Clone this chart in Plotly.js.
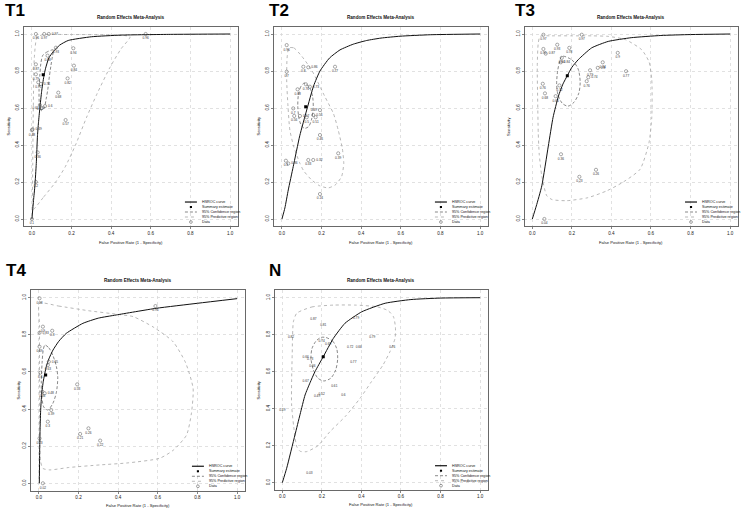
<!DOCTYPE html>
<html><head><meta charset="utf-8">
<script src="https://cdn.plot.ly/plotly-3.0.1.min.js"></script>
<style>html,body{margin:0;padding:0;background:#fff}#chart{width:744px;height:513px}</style>
</head><body><div id="chart"></div>
<script>
// ---------- shared ----------
const panelNames = ['T1','T2','T3','T4','N'];
const subTitle = 'Random Effects Meta-Analysis';
const xTitle = 'False Positive Rate (1 - Specificity)';
const yTitle = 'Sensitivity';
const tickVals = [0, 0.2, 0.4, 0.6, 0.8, 1.0];
const tickText = ['0.0','0.2','0.4','0.6','0.8','1.0'];
const legendLabels = ['HSROC curve','Summary estimate','95% Confidence region','95% Predictive region','Data'];

// ---------- T1 ----------
const t1_fpr = [0.02,0.062,0.085,0.574,0.121,0.209,0.212,0.18,0.133,0.17,0.079,0.02,0.02,0.032,0.045,0.04,0.066,0.05,0.0,0.003,0.029,0.02,0.0];
const t1_sens = [1.0,1.0,1.0,1.0,0.926,0.923,0.829,0.76,0.683,0.535,0.883,0.836,0.782,0.739,0.73,0.616,0.61,0.6,0.48,0.485,0.36,0.2,0.0];
const t1_lab = ['0.96','0.97','0.97','0.96','0.93','0.94','0.84','0.82','0.68','0.57','0.88','0.87','0.79','0.75','0.74','0.62','0.6','0.61','0.48','0.49','0.36','0.2','0.1'];
const t1_sum = [0.057, 0.78];
const t1_curve_x = [0,0.008,0.015,0.022,0.028,0.033,0.04,0.049,0.06,0.069,0.085,0.108,0.14,0.183,0.3,0.45,0.7,1.0];
const t1_curve_y = [0,0.1,0.18,0.3,0.45,0.52,0.6,0.69,0.77,0.815,0.87,0.905,0.94,0.965,0.985,0.994,0.998,1.0];
const t1_conf_x = [0.108,0.08,0.055,0.045,0.04,0.036,0.038,0.049,0.062,0.072,0.08,0.088,0.096,0.103,0.108];
const t1_conf_y = [0.914,0.905,0.885,0.84,0.778,0.7,0.62,0.585,0.6,0.65,0.7,0.77,0.83,0.877,0.914];
const t1_pred_x = [0.005,0.06,0.12,0.167,0.22,0.276,0.33,0.394,0.45,0.495,0.4,0.2,0.05,0.025,0.012,0.007,0.004,0.003,0.005];
const t1_pred_y = [0.05,0.12,0.2,0.28,0.4,0.55,0.68,0.82,0.92,0.985,0.995,0.997,0.995,0.98,0.87,0.6,0.3,0.1,0.05];

// ---------- T2 ----------
const t2_fpr = [0.024,0.024,0.108,0.133,0.268,0.079,0.121,0.141,0.057,0.062,0.091,0.125,0.158,0.17,0.192,0.192,0.284,0.02,0.032,0.133,0.158,0.192];
const t2_sens = [0.94,0.796,0.823,0.82,0.823,0.701,0.728,0.715,0.598,0.557,0.557,0.55,0.562,0.55,0.589,0.454,0.355,0.315,0.3,0.319,0.319,0.135];
const t2_lab = ['0.96','0.7','0.8','0.86','0.77','0.68','0.76','0.73','0.7','0.56','0.57','0.5','0.56','0.51','0.49','0.46','0.39','0.3','0.36','0.33','0.32','0.14'];
const t2_sum = [0.12, 0.607];
const t2_curve_x = [0,0.015,0.032,0.057,0.09,0.125,0.16,0.192,0.24,0.293,0.36,0.428,0.5,0.596,0.75,1.0];
const t2_curve_y = [0,0.06,0.157,0.283,0.45,0.589,0.72,0.8,0.87,0.914,0.945,0.965,0.978,0.988,0.996,1.0];
const t2_conf_x = [0.113,0.095,0.083,0.08,0.085,0.098,0.115,0.135,0.15,0.158,0.155,0.14,0.113];
const t2_conf_y = [0.735,0.715,0.67,0.61,0.55,0.505,0.49,0.5,0.54,0.6,0.66,0.71,0.735];
const t2_pred_x = [0.035,0.06,0.1,0.15,0.217,0.26,0.284,0.305,0.312,0.301,0.27,0.234,0.19,0.15,0.11,0.091,0.06,0.04,0.03,0.024,0.026,0.035];
const t2_pred_y = [0.925,0.925,0.88,0.805,0.661,0.57,0.481,0.38,0.3,0.229,0.185,0.168,0.18,0.211,0.26,0.3,0.39,0.481,0.62,0.751,0.87,0.925];

// ---------- T3 ----------
const t3_fpr = [0.056,0.25,0.056,0.068,0.126,0.187,0.149,0.144,0.053,0.064,0.137,0.118,0.292,0.283,0.275,0.331,0.356,0.432,0.474,0.145,0.322,0.238,0.061];
const t3_sens = [0.996,0.996,0.919,0.894,0.942,0.925,0.871,0.847,0.731,0.679,0.722,0.664,0.804,0.766,0.745,0.817,0.847,0.898,0.799,0.35,0.266,0.228,0.0];
const t3_lab = ['0.97','0.97','0.95','0.87','0.93','0.78','0.84','0.84','0.76','0.68','0.72','0.66','0.79','0.74','0.76','0.8','0.84','0.9','0.77','0.36','0.26','0.23','0.04'];
const t3_sum = [0.177, 0.775];
const t3_curve_x = [0,0.02,0.048,0.081,0.105,0.132,0.155,0.177,0.2,0.233,0.3,0.384,0.5,0.65,0.8,1.0];
const t3_curve_y = [0,0.07,0.179,0.395,0.55,0.664,0.73,0.775,0.82,0.862,0.925,0.96,0.98,0.992,0.997,1.0];
const t3_conf_x = [0.15,0.2,0.232,0.242,0.235,0.21,0.18,0.152,0.13,0.123,0.128,0.138,0.15];
const t3_conf_y = [0.88,0.86,0.81,0.74,0.68,0.63,0.61,0.625,0.67,0.73,0.8,0.85,0.88];
const t3_pred_x = [0.039,0.1,0.2,0.3,0.385,0.47,0.553,0.59,0.604,0.604,0.59,0.545,0.46,0.376,0.28,0.174,0.1,0.073,0.048,0.035,0.03,0.027,0.025,0.03,0.039];
const t3_pred_y = [0.987,0.99,0.99,0.99,0.987,0.97,0.915,0.85,0.754,0.55,0.413,0.269,0.2,0.152,0.115,0.099,0.105,0.126,0.233,0.35,0.467,0.65,0.826,0.95,0.987];

// ---------- T4 ----------
const t4_fpr = [0.003,0.02,0.003,0.067,0.003,0.045,0.05,0.007,0.017,0.029,0.062,0.045,0.193,0.25,0.208,0.309,0.003,0.588,0.02];
const t4_sens = [0.997,0.844,0.811,0.822,0.736,0.637,0.655,0.596,0.494,0.485,0.395,0.332,0.533,0.296,0.266,0.23,0.242,0.955,0.0];
const t4_lab = ['0.98','0.9','0.83','0.8','0.69','0.63','0.65','0.6','0.46','0.48','0.39','0.3','0.53','0.26','0.21','0.22','0.23','0.95','0.02'];
const t4_sum = [0.034, 0.584];
const t4_curve_x = [0.002,0.003,0.004,0.006,0.009,0.014,0.022,0.037,0.05,0.071,0.1,0.138,0.222,0.3,0.39,0.592,0.8,1.0];
const t4_curve_y = [0,0.1,0.2,0.3,0.4,0.48,0.55,0.628,0.67,0.718,0.765,0.808,0.862,0.89,0.907,0.943,0.97,0.995];
const t4_conf_x = [0.03,0.05,0.07,0.088,0.095,0.088,0.07,0.045,0.025,0.014,0.012,0.016,0.022,0.03];
const t4_conf_y = [0.745,0.73,0.69,0.63,0.57,0.49,0.43,0.395,0.41,0.47,0.55,0.65,0.72,0.745];
const t4_pred_x = [0.003,0.1,0.25,0.4,0.476,0.58,0.677,0.74,0.778,0.77,0.745,0.68,0.61,0.45,0.308,0.15,0.055,0.02,0.008,0.004,0.003,0.003,0.003];
const t4_pred_y = [0.97,0.955,0.93,0.91,0.898,0.84,0.763,0.65,0.512,0.38,0.26,0.18,0.135,0.11,0.099,0.085,0.072,0.08,0.12,0.3,0.6,0.85,0.97];

// ---------- N ----------
const n_fpr = [0.157,0.207,0.373,0.044,0.455,0.556,0.343,0.371,0.359,0.199,0.216,0.118,0.125,0.152,0.118,0.263,0.199,0.16,0.309,0.0,0.137];
const n_sens = [0.885,0.849,0.889,0.784,0.789,0.73,0.732,0.735,0.654,0.766,0.748,0.678,0.665,0.632,0.546,0.519,0.478,0.469,0.474,0.393,0.051];
const n_lab = ['0.87','0.81','0.79','0.82','0.79','0.76','0.72','0.66','0.77','0.74','0.69','0.66','0.73','0.66','0.67','0.61','0.52','0.49','0.6','0.49','0.03'];
const n_sum = [0.207, 0.681];
const n_curve_x = [0,0.022,0.064,0.09,0.115,0.14,0.165,0.207,0.258,0.317,0.402,0.52,0.65,0.8,1.0];
const n_curve_y = [0,0.078,0.258,0.37,0.474,0.54,0.6,0.681,0.78,0.862,0.924,0.97,0.99,0.998,1.0];
const n_conf_x = [0.22,0.255,0.275,0.28,0.27,0.245,0.21,0.18,0.157,0.145,0.15,0.17,0.195,0.22];
const n_conf_y = [0.785,0.765,0.725,0.67,0.61,0.565,0.55,0.565,0.61,0.67,0.725,0.765,0.785,0.785];
const n_pred_x = [0.073,0.15,0.258,0.37,0.478,0.535,0.562,0.572,0.57,0.545,0.509,0.45,0.393,0.32,0.241,0.18,0.123,0.09,0.073,0.058,0.047,0.047,0.05,0.056,0.073];
const n_pred_y = [0.916,0.95,0.96,0.96,0.951,0.93,0.897,0.84,0.78,0.71,0.636,0.545,0.456,0.36,0.276,0.2,0.168,0.17,0.195,0.3,0.42,0.55,0.69,0.87,0.916];

// ---------- build ----------
const W = 744, H = 513;
const FONT = 'Arial, "Liberation Sans", sans-serif';
const panels = [
  {fpr:t1_fpr, sens:t1_sens, lab:t1_lab, sum:t1_sum, cx:t1_curve_x, cy:t1_curve_y, kx:t1_conf_x, ky:t1_conf_y, px:t1_pred_x, py:t1_pred_y,
   box:[24,238,26.6,226.4], label:[3,10], xtOff:16.5, ytOff:16, circles:true},
  {fpr:t2_fpr, sens:t2_sens, lab:t2_lab, sum:t2_sum, cx:t2_curve_x, cy:t2_curve_y, kx:t2_conf_x, ky:t2_conf_y, px:t2_pred_x, py:t2_pred_y,
   box:[274,488,26.6,226.4], label:[267,10], xtOff:16.5, ytOff:16, circles:true},
  {fpr:t3_fpr, sens:t3_sens, lab:t3_lab, sum:t3_sum, cx:t3_curve_x, cy:t3_curve_y, kx:t3_conf_x, ky:t3_conf_y, px:t3_pred_x, py:t3_pred_y,
   box:[524.4,738,26.6,226.4], label:[513,10], xtOff:16.5, ytOff:16, circles:true},
  {fpr:t4_fpr, sens:t4_sens, lab:t4_lab, sum:t4_sum, cx:t4_curve_x, cy:t4_curve_y, kx:t4_conf_x, ky:t4_conf_y, px:t4_pred_x, py:t4_pred_y,
   box:[31,245,290.3,490.7], label:[4,270], xtOff:14.5, ytOff:13, circles:true},
  {fpr:n_fpr, sens:n_sens, lab:n_lab, sum:n_sum, cx:n_curve_x, cy:n_curve_y, kx:n_conf_x, ky:n_conf_y, px:n_pred_x, py:n_pred_y,
   box:[274.4,488,290.3,490.1], label:[267,270], xtOff:14.5, ytOff:16, circles:false}
];

// move a label sideways when it would collide with a label already placed nearby
function labelPositions(xs, ys, base) {
  const pos = [];
  const alts = [base, 'middle right', 'middle left', 'top center'];
  for (let i = 0; i < xs.length; i++) {
    let chosen = base;
    for (const a of alts) {
      let clash = false;
      for (let j = 0; j < i; j++) {
        if (pos[j] === a && Math.abs(xs[i] - xs[j]) < 0.04 && Math.abs(ys[i] - ys[j]) < 0.04) { clash = true; break; }
      }
      if (!clash) { chosen = a; break; }
    }
    pos.push(chosen);
  }
  return pos;
}

const traces = [];
const layout = {
  width: W, height: H, margin:{l:0,r:0,t:0,b:0},
  paper_bgcolor:'#fff', plot_bgcolor:'#fff', showlegend:false,
  font:{family:FONT, color:'#111'},
  annotations:[], shapes:[]
};

panels.forEach((p, i) => {
  const k = i + 1;
  const sx = k === 1 ? '' : String(k);
  const xa = 'x' + sx, ya = 'y' + sx;
  const common = {range:[-0.04,1.04], tickvals:tickVals, ticktext:tickText, ticks:'outside', ticklen:2,
    tickwidth:0.6, tickcolor:'#333', tickfont:{size:4.6, color:'#222', family:FONT},
    showline:true, mirror:true, linecolor:'#444', linewidth:0.8,
    showgrid:true, gridcolor:'#d4d4d4', griddash:'dot', gridwidth:0.7, zeroline:false, fixedrange:true};
  layout['xaxis' + sx] = Object.assign({}, common, {domain:[p.box[0]/W, p.box[1]/W], anchor:ya});
  layout['yaxis' + sx] = Object.assign({}, common, {domain:[1 - p.box[3]/H, 1 - p.box[2]/H], anchor:xa, tickangle:-90});

  traces.push({x:p.px, y:p.py, xaxis:xa, yaxis:ya, mode:'lines', line:{color:'#9a9a9a', width:0.7, dash:'dot', shape:'spline', smoothing:0.6}, hoverinfo:'skip'});
  traces.push({x:p.kx, y:p.ky, xaxis:xa, yaxis:ya, mode:'lines', line:{color:'#555', width:0.7, dash:'3px,2px', shape:'spline', smoothing:0.8}, hoverinfo:'skip'});
  traces.push({x:p.cx, y:p.cy, xaxis:xa, yaxis:ya, mode:'lines', line:{color:'#111', width:1.0, shape:'spline', smoothing:0.5}, hoverinfo:'skip'});
  if (p.circles) {
    traces.push({x:p.fpr, y:p.sens, text:p.lab, xaxis:xa, yaxis:ya, mode:'markers+text',
      textposition:labelPositions(p.fpr, p.sens, 'bottom center'),
      textfont:{size:3.2, color:'#333', family:FONT},
      marker:{symbol:'circle-open', size:3.2, color:'#555', line:{width:0.5}}});
  } else {
    traces.push({x:p.fpr, y:p.sens, text:p.lab, xaxis:xa, yaxis:ya, mode:'text',
      textposition:labelPositions(p.fpr, p.sens, 'middle center'),
      textfont:{size:3.2, color:'#333', family:FONT}});
  }
  traces.push({x:[p.sum[0]], y:[p.sum[1]], xaxis:xa, yaxis:ya, mode:'markers', marker:{symbol:'square', size:3, color:'#000'}});

  const xd = xa + ' domain', yd = ya + ' domain';
  layout.annotations.push({xref:'paper', yref:'paper', x:p.label[0]/W, y:1 - p.label[1]/H, xanchor:'left', yanchor:'middle',
    text:'<b>' + panelNames[i] + '</b>', showarrow:false, font:{size:17, family:FONT, color:'#000'}});
  layout.annotations.push({xref:xd, yref:yd, x:0.5, y:1, yshift:9.5, xanchor:'center', yanchor:'middle',
    text:'<b>' + subTitle + '</b>', showarrow:false, font:{size:4.6, family:FONT, color:'#111'}});
  layout.annotations.push({xref:xd, yref:yd, x:0.5, y:0, yshift:-p.xtOff, xanchor:'center', yanchor:'middle',
    text:xTitle, showarrow:false, font:{size:4.1, family:FONT, color:'#111'}});
  layout.annotations.push({xref:xd, yref:yd, x:0, y:0.5, xshift:-p.ytOff, xanchor:'center', yanchor:'middle', textangle:-90,
    text:yTitle, showarrow:false, font:{size:4.1, family:FONT, color:'#111'}});
  const rows = [0.122, 0.097, 0.072, 0.047, 0.022];
  const lx0 = 0.752, lx1 = 0.808, tx = 0.822;
  layout.shapes.push({type:'line', xref:xd, yref:yd, x0:lx0, x1:lx1, y0:rows[0], y1:rows[0], line:{color:'#111', width:1.2}});
  layout.shapes.push({type:'rect', xref:xd, yref:yd, x0:0.775, x1:0.785, y0:rows[1]-0.005, y1:rows[1]+0.005, line:{width:0}, fillcolor:'#000'});
  layout.shapes.push({type:'line', xref:xd, yref:yd, x0:lx0, x1:lx1, y0:rows[2], y1:rows[2], line:{color:'#555', width:0.7, dash:'3px,2px'}});
  layout.shapes.push({type:'line', xref:xd, yref:yd, x0:lx0, x1:lx1, y0:rows[3], y1:rows[3], line:{color:'#9a9a9a', width:0.7, dash:'dot'}});
  layout.shapes.push({type:'circle', xref:xd, yref:yd, x0:0.7735, x1:0.7865, y0:rows[4]-0.007, y1:rows[4]+0.007, line:{color:'#444', width:0.5}});
  legendLabels.forEach((t, j) => {
    layout.annotations.push({xref:xd, yref:yd, x:tx, y:rows[j], xanchor:'left', yanchor:'middle', text:t, showarrow:false,
      font:{size:3.7, family:FONT, color:'#111'}});
  });
});

Plotly.newPlot('chart', traces, layout, {staticPlot:true, displayModeBar:false});
</script>
</body></html>
